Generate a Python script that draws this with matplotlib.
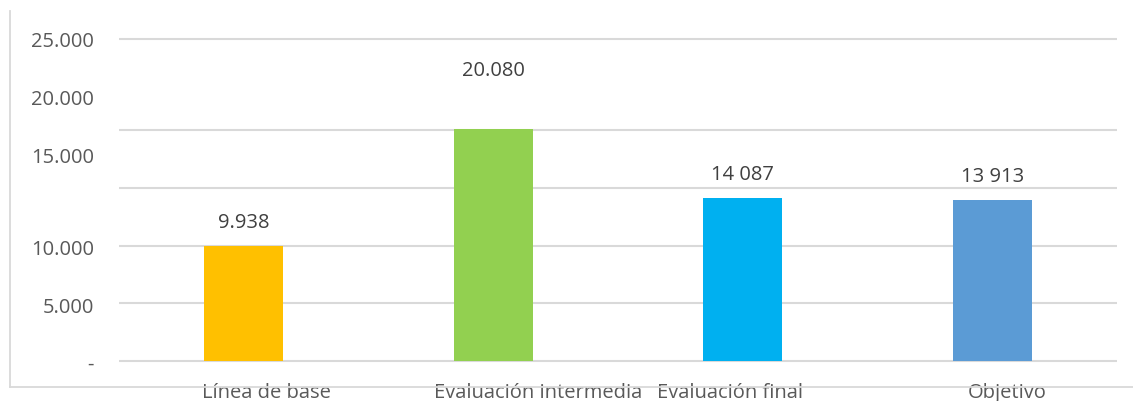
import matplotlib
matplotlib.use("Agg")
import matplotlib.pyplot as plt
from matplotlib.lines import Line2D

# datos
categorias = ["Línea de base", "Evaluación intermedia", "Evaluación final", "Objetivo"]
valores = [9938, 20080, 14087, 13913]
etiquetas = ["9.938", "20.080", "14 087", "13 913"]
colores = ["#FFC000", "#92D050", "#00B0F0", "#5B9BD5"]

# eje y (las etiquetas del original no coinciden con la cuadricula)
lineas_grid = [0, 5000, 10000, 15000, 20000, 27880]
pos_ytick = [0, 4930, 9950, 17900, 22920, 27880]
ytick_labels = ["-", "5.000", "10.000", "15.000", "20.000", "25.000"]
pos_xtick = [0.09, 1.18, 1.95, 3.06]
desfase_etiqueta = [24, 59, 24, 24]

texto = "#595959"
plt.rcParams["font.family"] = ["Open Sans", "DejaVu Sans"]

fig = plt.figure(figsize=(11.33, 4.02), dpi=100)
ax = fig.add_axes([0.105, 0.0995, 0.881, 0.801])

x = range(len(categorias))
ax.hlines(lineas_grid, -0.5, 3.5, colors="#D9D9D9", linewidth=1.5, zorder=0, clip_on=False)
ax.bar(x, valores, width=0.317, color=colores, zorder=3)

for xi, v, lab, d in zip(x, valores, etiquetas, desfase_etiqueta):
    ax.annotate(lab, (xi, v), xytext=(0, d * 0.72), textcoords="offset points",
                ha="center", va="center", fontsize=14.5, color="#404040")

ax.set_yticks(pos_ytick)
ax.set_yticklabels(ytick_labels)
ax.set_xticks(pos_xtick)
ax.set_xticklabels(categorias)
ax.set_xlim(-0.5, 3.5)
ax.set_ylim(0, 27880)
ax.tick_params(axis="both", which="both", length=0, colors=texto, labelsize=14.5)
ax.tick_params(axis="y", pad=18)
ax.tick_params(axis="x", pad=15)
for s in ax.spines.values():
    s.set_visible(False)

# marco del grafico
fig.add_artist(Line2D([10 / 1133, 10 / 1133], [14 / 402, 1 - 12 / 402],
                      color="#D9D9D9", linewidth=1.3))
fig.add_artist(Line2D([10 / 1133, 1.0], [14 / 402, 14 / 402],
                      color="#D9D9D9", linewidth=1.3))

fig.savefig("out.png", dpi=100)
